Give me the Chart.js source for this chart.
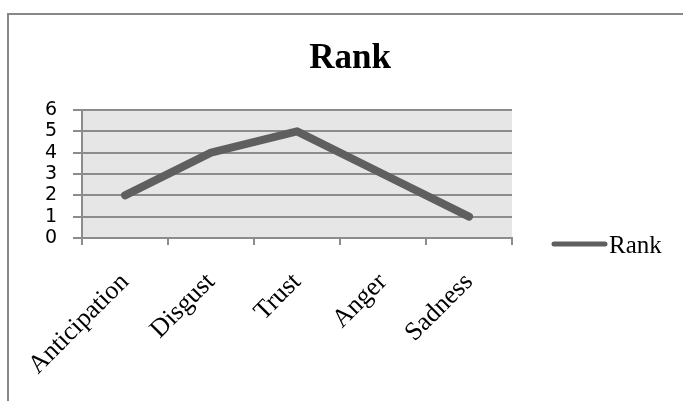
<!DOCTYPE html>
<html>
<head>
<meta charset="utf-8">
<script src="https://cdn.jsdelivr.net/npm/chart.js@4/dist/chart.umd.min.js"></script>
<style>
  html, body { margin: 0; padding: 0; background: #fff; overflow: hidden; }
  #wrap { position: relative; width: 683px; height: 401px; }
  #frame { position: absolute; left: 7px; top: 13px; width: 700px; height: 420px;
           border-left: 2px solid #888; border-top: 2px solid #888; pointer-events: none; }
  canvas { position: absolute; left: 0; top: 0; }
</style>
</head>
<body>
<div id="wrap">
  <canvas id="chart" width="683" height="401"></canvas>
  <div id="frame"></div>
</div>
<script>
const categories = ["Anticipation", "Disgust", "Trust", "Anger", "Sadness"];
const rankValues = [2, 4, 5, 3, 1];
const seriesName = "Rank";
const yTicks = [0, 1, 2, 3, 4, 5, 6];

const lineColor = "#5f5f5f";
const gridColor = "#8c8c8c";

// grey plot background
const plotBg = {
    id: "plotBg",
    beforeDraw(chart) {
        const a = chart.chartArea;
        const ctx = chart.ctx;
        ctx.save();
        ctx.fillStyle = "#e6e6e6";
        ctx.fillRect(a.left, a.top, a.right - a.left, a.bottom - a.top);
        ctx.restore();
    },
};

// legend drawn off to the right like the original
const sideLegend = {
    id: "sideLegend",
    afterDraw(chart) {
        const ctx = chart.ctx;
        const ds = chart.data.datasets[0];
        ctx.save();
        ctx.strokeStyle = ds.borderColor;
        ctx.lineWidth = 5;
        ctx.lineCap = "round";
        ctx.beginPath();
        ctx.moveTo(554, 244);
        ctx.lineTo(605, 244);
        ctx.stroke();
        ctx.fillStyle = "#000";
        ctx.font = "25px 'Liberation Serif'";
        ctx.textBaseline = "alphabetic";
        ctx.fillText(ds.label, 609, 253);
        ctx.restore();
    },
};

new Chart(document.getElementById("chart").getContext("2d"), {
    type: "line",
    data: {
        labels: categories,
        datasets: [{
            label: seriesName,
            data: rankValues,
            borderColor: lineColor,
            backgroundColor: lineColor,
            borderWidth: 8,
            borderCapStyle: "round",
            borderJoinStyle: "round",
            pointRadius: 0,
            tension: 0,
        }],
    },
    options: {
        responsive: false,
        animation: false,
        devicePixelRatio: 1,
        layout: { padding: { left: 17, top: 0, right: 0, bottom: 0 } },
        plugins: {
            legend: { display: false },
            tooltip: { enabled: false },
            title: {
                display: true,
                text: seriesName,
                color: "#000",
                font: { family: "'Liberation Serif'", size: 35, weight: "bold", lineHeight: 1.2 },
                padding: { top: 38, bottom: 30 },
            },
        },
        scales: {
            x: {
                offset: true,
                grid: { offset: true, drawOnChartArea: false, color: gridColor, lineWidth: 2, tickLength: 7 },
                border: { display: true, color: gridColor, width: 2 },
                ticks: {
                    color: "#000",
                    font: { family: "'Liberation Serif'", size: 26 },
                    minRotation: 45,
                    maxRotation: 45,
                    autoSkip: false,
                    padding: 22,
                },
                afterFit(s) { s.height = 163; },
            },
            y: {
                min: yTicks[0],
                max: yTicks[yTicks.length - 1],
                grid: { color: gridColor, lineWidth: 2, tickLength: 9 },
                border: { display: true, color: gridColor, width: 2 },
                ticks: {
                    stepSize: 1,
                    autoSkip: false,
                    color: "#000",
                    font: { family: "'DejaVu Sans'", size: 19 },
                    padding: 16,
                },
                afterFit(s) { s.width = 65; },
            },
            // empty right-hand gutter where the legend sits
            legendSpace: {
                type: "linear",
                position: "right",
                grid: { display: false },
                border: { display: false },
                ticks: { display: false },
                afterFit(s) { s.width = 171; },
            },
        },
    },
    plugins: [plotBg, sideLegend],
});
</script>
</body>
</html>
